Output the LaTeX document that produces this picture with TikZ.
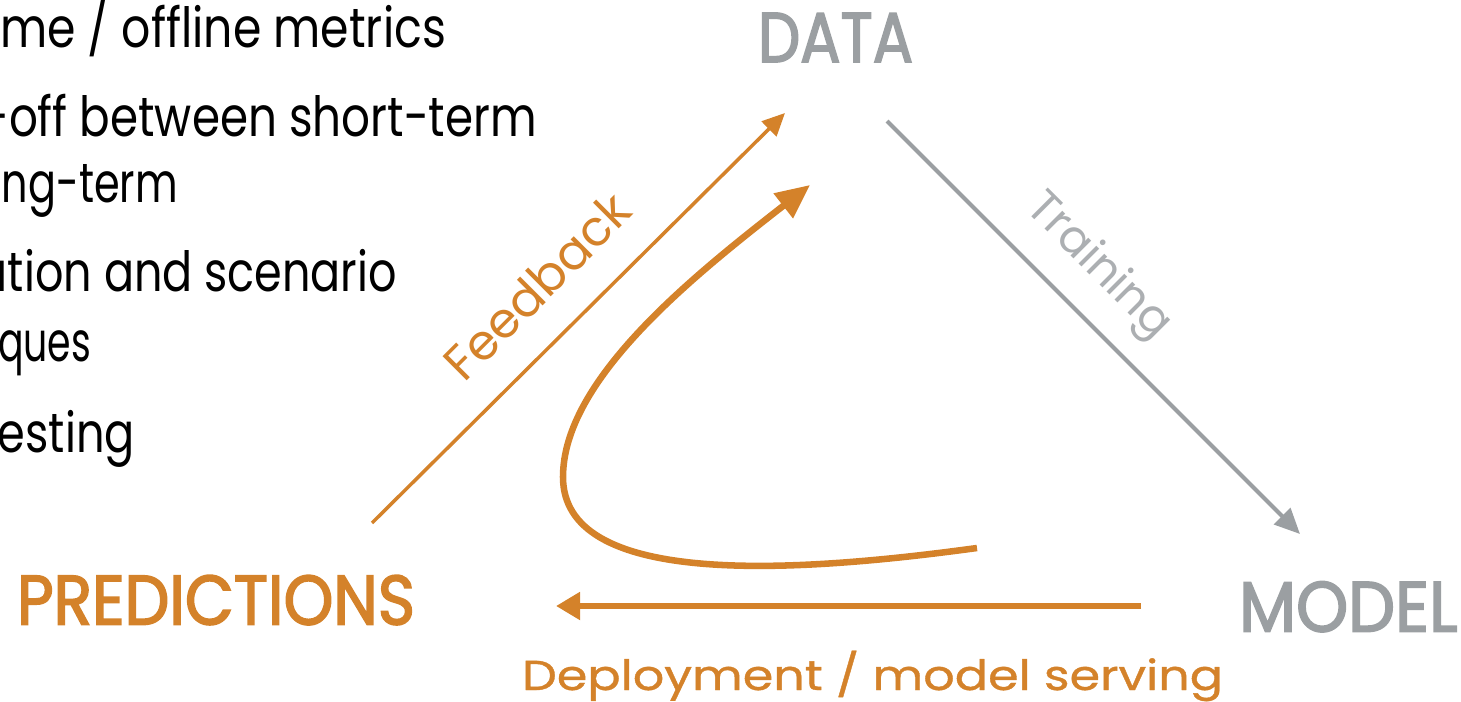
\documentclass[tikz,border=0pt]{standalone}
\usepackage{fontspec}
\setmainfont{Poppins}[Ligatures=NoCommon]
\newfontfamily\medfont{Poppins}[FakeBold=2.5]
\newfontfamily\semifont{Poppins}[FakeBold=0.8]
\usetikzlibrary{arrows.meta}
\definecolor{org}{RGB}{212,130,42}
\definecolor{gry}{RGB}{155,159,162}
\definecolor{lgry}{RGB}{172,175,178}
\newlength\refw
\newlength\refh
\begin{document}%
\settoheight\refh{\normalfont l}%
\pgfmathsetmacro\syl{30.75/\refh}%
\settowidth\refw{\normalfont me / offline metrics}%
\pgfmathsetmacro\sxa{334.5/\refw}%
\settowidth\refw{\normalfont off between short-term}%
\pgfmathsetmacro\sxb{396/\refw}%
\settowidth\refw{\normalfont ng-term}%
\pgfmathsetmacro\sxc{132/\refw}%
\settowidth\refw{\normalfont tion and scenario}%
\pgfmathsetmacro\sxd{291.75/\refw}%
\settowidth\refw{\normalfont ques}%
\pgfmathsetmacro\sxe{69.75/\refw}%
\settowidth\refw{\normalfont esting}%
\pgfmathsetmacro\sxf{102.75/\refw}%
\begin{tikzpicture}[x=0.75pt,y=-0.75pt,
  txt/.style={inner sep=0pt, outer sep=0pt},
  lefttxt/.style={txt, anchor=base east, text=black},
  orgarrow/.style={draw=org, -{Triangle[length=17pt,width=15.5pt]}, line width=2.6pt},
  bigarrow/.style={draw=org, -{Triangle[length=25.5pt,width=22.5pt]}, line width=4.9pt},
  deparrow/.style={draw=org, -{Triangle[length=18pt,width=20pt]}, line width=4.5pt},
  grayarrow/.style={draw=gry, -{Triangle[length=19pt,width=17pt]}, line width=3pt}]
\useasboundingbox (0,0) rectangle (1461,702);
% left text (cut off at the left edge)
\node[lefttxt] (l1) at (446,48)  {\scalebox{\sxa}[\syl]{me / offline metrics}};
\node[lefttxt] (l2) at (537,137) {\scalebox{\sxb}[\syl]{-off between short-term}};
\node[lefttxt] (l3) at (178,203) {\scalebox{\sxc}[\syl]{ng-term}};
\node[lefttxt] (l4) at (397,292) {\scalebox{\sxd}[\syl]{ation and scenario}};
\node[lefttxt] (l5) at (91,362)  {\scalebox{\sxe}[\syl]{ques}};
\node[lefttxt] (l6) at (135,452) {\scalebox{\sxf}[\syl]{esting}};
% main labels
\node[txt, anchor=south west, text=gry] (data) at (758,62) {\resizebox{116.25pt}{36.75pt}{\medfont DATA}};
\node[txt, anchor=south west, text=gry] (model) at (1239,632) {\resizebox{164pt}{37.5pt}{\medfont MODEL}};
\node[txt, anchor=south west, text=org] (pred) at (17,625) {\resizebox{298.5pt}{37pt}{\medfont PREDICTIONS}};
\node[txt, anchor=base west, text=org] (dep) at (522,690) {\resizebox{525.75pt}{29.5pt}{\semifont Deployment / model serving}};
\node[txt, rotate=45, text=org] (fb) at (537,286) {\resizebox{180pt}{!}{Feedback}};
\node[txt, rotate=-45, text=lgry] (tr) at (1098,267) {\resizebox{139pt}{!}{Training}};
% connector end points
\coordinate (fbS) at (372,523);
\coordinate (fbE) at (785,113);
\coordinate (trS) at (887,121);
\coordinate (trE) at (1300,534);
\coordinate (dpS) at (1141,606);
\coordinate (dpE) at (556,606);
\coordinate (cvS) at (977,548);
\coordinate (cvM) at (563,477);
\coordinate (cvE) at (810,185);
% connectors
\draw[orgarrow] (fbS) -- (fbE);
\draw[grayarrow] (trS) -- (trE);
\draw[deparrow] (dpS) -- (dpE);
\draw[bigarrow] (cvS) .. controls (780,575) and (563,585) .. (cvM)
                      .. controls (563,380) and (692,277) .. (cvE);
\end{tikzpicture}%
\end{document}
